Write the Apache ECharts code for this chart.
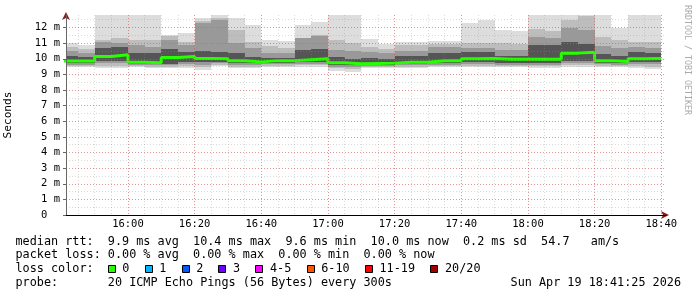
<!DOCTYPE html>
<html><head><meta charset="utf-8">
<script src="https://cdn.jsdelivr.net/npm/echarts@6/dist/echarts.min.js"></script>
<style>html,body{margin:0;padding:0;background:#fff;}#c{width:697px;height:297px;}</style>
</head><body><div id="c"></div>
<script>
// ---- data (5-minute columns, edges in HH:MM) ----
const colEdges = ["15:40","15:45","15:50","15:55","16:00","16:05","16:10","16:15","16:20","16:25","16:30","16:35",
  "16:40","16:45","16:50","16:55","17:00","17:05","17:10","17:15","17:20","17:25","17:30","17:35",
  "17:40","17:45","17:50","17:55","18:00","18:05","18:10","18:15","18:20","18:25","18:30","18:35","18:40"];
const viewStart = "15:41:25";
const viewEnd = "18:41:25";
// RTT in ms, per column
const pingMax = [11.04,10.87,12.8,12.8,12.8,12.8,11.51,11.62,12.64,12.8,12.64,12.15,11.23,11.14,12.15,12.35,12.8,12.8,
  11.25,10.94,11.07,11.1,11.16,11.16,12.27,12.47,11.83,11.76,12.8,12.8,12.8,12.8,12.8,11.94,12.8,12.8];
const band2Hi = [10.76,10.6,11.2,11.3,11.2,11.2,11.45,11.1,12.4,12.6,11.85,11.1,10.8,10.7,11.35,11.5,11.2,11.0,
  10.75,10.65,10.85,10.85,10.95,10.95,10.98,11.0,10.98,10.95,11.9,11.8,12.45,12.75,11.4,11.2,11.1,11.05];
const band3Hi = [10.5,10.4,11.05,11.0,10.9,10.75,11.2,10.9,12.3,12.5,11.0,10.7,10.4,10.35,11.3,11.45,10.55,10.5,
  10.45,10.4,10.5,10.5,10.75,10.75,10.7,10.7,10.55,10.55,11.4,11.3,12.0,11.85,10.8,10.7,10.75,10.7];
const band4Hi = [10.15,10.1,10.7,10.75,10.4,10.35,10.6,10.45,10.5,10.45,10.35,10.1,10.05,10.05,10.55,10.6,10.1,10.0,
  10.05,10.0,10.15,10.15,10.4,10.4,10.44,10.44,10.2,10.2,10.9,10.85,11.1,10.95,10.3,10.15,10.45,10.4];
const medianRtt = [9.86,9.86,10.15,10.26,9.78,9.74,10.08,10.15,10.02,10.0,9.87,9.8,9.88,9.88,9.94,10.0,9.74,9.68,
  9.7,9.72,9.77,9.77,9.87,9.87,10.0,10.02,9.97,9.97,9.97,9.97,10.36,10.42,9.88,9.82,10.0,10.02];
const band4Lo = [9.72,9.72,9.85,9.85,9.68,9.65,9.68,9.78,9.8,9.8,9.72,9.7,9.75,9.75,9.8,9.78,9.6,9.58,
  9.6,9.62,9.65,9.65,9.72,9.72,9.78,9.78,9.75,9.75,9.75,9.75,9.85,9.85,9.75,9.7,9.78,9.78];
const band3Lo = [9.62,9.62,9.7,9.7,9.6,9.58,9.58,9.65,9.62,9.7,9.62,9.6,9.65,9.65,9.68,9.68,9.48,9.45,
  9.55,9.55,9.58,9.58,9.62,9.62,9.65,9.65,9.62,9.62,9.62,9.62,9.7,9.7,9.65,9.6,9.65,9.65];
const band2Lo = [9.55,9.55,9.55,9.55,9.52,9.5,9.5,9.55,9.5,9.62,9.5,9.5,9.55,9.55,9.58,9.58,9.38,9.33,
  9.5,9.5,9.5,9.5,9.55,9.55,9.55,9.55,9.52,9.52,9.52,9.52,9.6,9.6,9.55,9.52,9.52,9.5];
const pingMin = [9.46,9.46,9.4,9.4,9.45,9.42,9.42,9.42,9.3,9.55,9.38,9.38,9.47,9.47,9.47,9.47,9.2,9.16,
  9.42,9.42,9.42,9.42,9.45,9.45,9.45,9.45,9.45,9.45,9.4,9.42,9.45,9.45,9.45,9.45,9.4,9.36];
const yMaxMs = 12.8;
const legendLines = [
  "median rtt:  9.9 ms avg  10.4 ms max  9.6 ms min  10.0 ms now  0.2 ms sd  54.7   am/s",
  "packet loss: 0.00 % avg  0.00 % max  0.00 % min  0.00 % now",
  "loss color:",
  "probe:       20 ICMP Echo Pings (56 Bytes) every 300s"
];
const dateText = "Sun Apr 19 18:41:25 2026";
const lossLabels = ["0","1","2","3","4-5","6-10","11-19","20/20"];
const lossColors = ["#26ff00","#00b8ff","#0059ff","#6e00ff","#ff00ff","#ff5500","#ff0000","#a10000"];
const bandColors = ["#dddddd","#bdbdbd","#999999","#555555"];
const watermark = "RRDTOOL / TOBI OETIKER";

// ---- build ----
const MONO = '"DejaVu Sans Mono", "Liberation Mono", monospace';
const toMin = s => { const p = s.split(':').map(Number); return p[0]*60 + p[1] + (p[2]||0)/60; };
const xs = colEdges.map(toMin);
const stepData = vals => xs.map((x,i) => [x, vals[Math.min(i, vals.length-1)]]);
const pad = n => (n < 10 ? '0' : '') + n;

function bandItem(params, api) {
  const x0 = api.value(0), x1 = api.value(1), lo = api.value(2), hi = api.value(3);
  const a = api.coord([x0, hi]), b = api.coord([x1, lo]);
  const cs = params.coordSys;
  const L = Math.round(a[0]), R = Math.round(b[0]), T = Math.round(a[1]), B = Math.round(b[1]);
  const shape = echarts.graphic.clipRectByRect(
    {x:L, y:T, width:R-L, height:B-T},
    {x:cs.x, y:cs.y, width:cs.width, height:cs.height});
  if (!shape) return null;
  return {type:'rect', shape:shape, style:{fill:api.visual('color')}};
}

const series = [];
[[pingMin,pingMax],[band2Lo,band2Hi],[band3Lo,band3Hi],[band4Lo,band4Hi]].forEach(([lo,hi],b) => {
  series.push({type:'custom', renderItem:bandItem, silent:true, z:2, itemStyle:{color:bandColors[b]},
    encode:{x:[0,1], y:[2,3]},
    data:lo.map((v,i) => [xs[i], xs[i+1], v, hi[i]])});
});
series.push({type:'line', data:stepData(medianRtt), step:'end', symbol:'none', silent:true,
  lineStyle:{color:lossColors[0], width:3}, z:3});

const xMin = toMin(viewStart), xMax = toMin(viewEnd);
const majorColor = 'rgba(225,80,80,0.5)';
const minorColor = 'rgba(150,150,150,0.35)';
const arrowColor = '#8b1a1a';

// legend graphics
const CH = 7.13, X0 = 15.5, lineY = [241.7, 255.3, 268.9, 282.7];
const graphics = [];
legendLines.forEach((t,i) => graphics.push({type:'text', silent:true,
  style:{text:t, x:X0, y:lineY[i], font:'11.8px '+MONO, fill:'#000',
    textAlign:'left', align:'left', textVerticalAlign:'middle', verticalAlign:'middle'}}));
graphics.push({type:'text', silent:true,
  style:{text:dateText, x:681, y:lineY[3], font:'11.8px '+MONO, fill:'#000',
    textAlign:'right', align:'right', textVerticalAlign:'middle', verticalAlign:'middle'}});
let bx = X0 + 13*CH - 0.5;
lossLabels.forEach((lab,i) => {
  graphics.push({type:'rect', silent:true, shape:{x:Math.round(bx)+0.5, y:265.5, width:7, height:7},
    style:{fill:lossColors[i], stroke:'#000', lineWidth:1}});
  const lx = bx + 14.6;
  graphics.push({type:'text', silent:true,
    style:{text:lab, x:lx, y:lineY[2], font:'11.8px '+MONO, fill:'#000',
      textAlign:'left', align:'left', textVerticalAlign:'middle', verticalAlign:'middle'}});
  bx = lx + lab.length*CH + 15.2;
});
graphics.push({type:'text', silent:true, x:687, y:5, rotation:-Math.PI/2,
  style:{text:watermark, x:0, y:0, font:'8.3px '+MONO, fill:'#aaaaaa',
    textAlign:'left', align:'left', textVerticalAlign:'middle', verticalAlign:'middle'}});

const option = {
  animation:false,
  backgroundColor:'#ffffff',
  grid:{left:66, top:15, width:600, height:200, containLabel:false, outerBoundsMode:'none'},
  xAxis:[
    {type:'value', min:xMin, max:xMax, splitNumber:9, minInterval:20, maxInterval:20, z:20,
     axisLine:{show:true, onZero:false, lineStyle:{color:'#000', width:1}},
     axisTick:{show:false},
     axisLabel:{show:true, margin:4, showMinLabel:false, showMaxLabel:false, color:'#000',
       fontFamily:MONO, fontSize:10.5,
       formatter:v => { const h = Math.floor(v/60 + 1e-6); const m = Math.round(v - h*60); return pad(h)+':'+pad(m); }},
     splitLine:{show:true, showMinLine:false, showMaxLine:false, lineStyle:{color:majorColor, type:[1,2], width:1}}},
    {type:'value', min:xMin, max:xMax, splitNumber:36, minInterval:5, maxInterval:5, z:19, position:'bottom',
     axisLine:{show:true, onZero:false, symbol:['none','arrow'], symbolSize:[6,8], symbolOffset:[0,3],
       lineStyle:{color:arrowColor, width:1}},
     axisTick:{show:false}, axisLabel:{show:false},
     splitLine:{show:true, showMinLine:false, showMaxLine:false, lineStyle:{color:minorColor, type:[1,2], width:1}}}
  ],
  yAxis:[
    {type:'value', min:0, max:yMaxMs, interval:1, z:20,
     name:'Seconds', nameLocation:'middle', nameGap:52, nameRotate:90,
     nameTextStyle:{fontFamily:MONO, fontSize:11.2, color:'#000'},
     axisLine:{show:true, onZero:false, lineStyle:{color:'#666', width:1}},
     axisTick:{show:true, length:3, lineStyle:{color:'#666'}},
     axisLabel:{show:true, margin:6, showMaxLabel:false, color:'#000', fontFamily:MONO, fontSize:10.5,
       formatter:v => v === 0 ? '0  ' : v + ' m'},
     splitLine:{show:true, showMinLine:false, showMaxLine:false, lineStyle:{color:majorColor, type:[1,2], width:1}}},
    {type:'value', min:0, max:yMaxMs, interval:0.5, z:19, position:'left',
     axisLine:{show:true, onZero:false, symbol:['none','arrow'], symbolSize:[6,8], symbolOffset:[0,3],
       lineStyle:{color:arrowColor, width:1}},
     axisTick:{show:false}, axisLabel:{show:false},
     splitLine:{show:true, showMinLine:false, showMaxLine:false, lineStyle:{color:minorColor, type:[1,2], width:1}}}
  ],
  series:series,
  graphic:{elements:graphics}
};
const chart = echarts.init(document.getElementById('c'), null, {renderer:'canvas', width:697, height:297});
chart.setOption(option);
</script>
</body></html>
